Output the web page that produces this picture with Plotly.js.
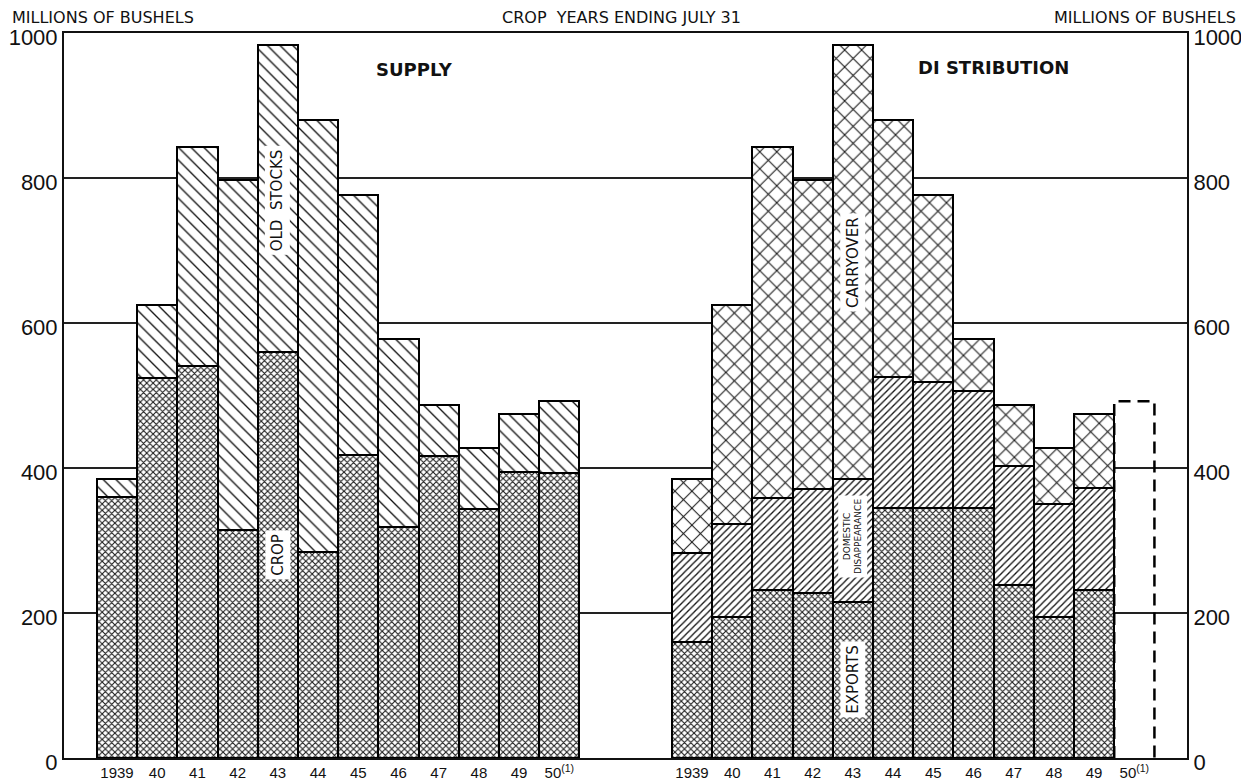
<!DOCTYPE html>
<html>
<head>
<meta charset="utf-8">
<script src="https://cdn.plot.ly/plotly-3.0.1.min.js"></script>
<style>html,body{margin:0;padding:0;background:#fff;}#chart{width:1241px;height:781px;}</style>
</head>
<body>
<div id="chart"></div>
<script>
// Crop years ending July 31
var years = ["1939","40","41","42","43","44","45","46","47","48","49","50<sup>(1)</sup>"];

// SUPPLY (millions of bushels)
var supplyCrop      = [360, 524, 541, 315, 560, 284, 418, 318, 417, 343, 395, 393];
var supplyOldStocks = [25, 101, 302, 482, 423, 596, 358, 260, 70, 85, 79, 99];

// DISTRIBUTION (millions of bushels), 1939-49
var distExports  = [160, 194, 232, 227, 215, 345, 345, 345, 239, 194, 232];
var distDomestic = [123, 129, 127, 144, 170, 180, 173, 161, 164, 157, 140];
var distCarryover= [102, 302, 484, 426, 598, 355, 258, 72, 84, 77, 102];
// 1950 distribution, projected total (dashed outline)
var dist1950Total = 492;

var yTicks = [0, 200, 400, 600, 800, 1000];

// layout positions (category index -> axis position)
var rightOffset = 14.3;
var leftPos = years.map(function(_, i){ return i; });
var rightPos = years.map(function(_, i){ return rightOffset + i; });

var fine = {shape: 'x', size: 4.5, solidity: 0.42, fgcolor: '#1a1a1a', bgcolor: '#ffffff'};
var lineStyle = {color: '#000', width: 2};

function barTrace(x, y, pattern, name){
  return {
    type: 'bar', x: x, y: y, name: name, width: 1,
    marker: {color: '#ffffff', pattern: pattern, line: lineStyle},
    hoverinfo: 'x+y+name', showlegend: false
  };
}

var traces = [
  barTrace(leftPos, supplyCrop, fine, 'Crop'),
  barTrace(leftPos, supplyOldStocks, {shape: '\\', size: 9, solidity: 0.15, fgcolor: '#111', bgcolor: '#fff'}, 'Old stocks'),
  barTrace(rightPos.slice(0, distExports.length), distExports, fine, 'Exports'),
  barTrace(rightPos.slice(0, distDomestic.length), distDomestic, {shape: '/', size: 5, solidity: 0.26, fgcolor: '#111', bgcolor: '#fff'}, 'Domestic disappearance'),
  barTrace(rightPos.slice(0, distCarryover.length), distCarryover, {shape: 'x', size: 12, solidity: 0.16, fgcolor: '#111', bgcolor: '#fff'}, 'Carryover')
];

// dashed outline for 1950 distribution
var p50 = rightPos[11];
traces.push({
  type: 'scatter', mode: 'lines',
  x: [p50 - 0.5, p50 - 0.5, p50 + 0.5, p50 + 0.5],
  y: [0, dist1950Total, dist1950Total, 0],
  line: {color: '#000', width: 2.5, dash: '12px,7px'},
  hoverinfo: 'skip', showlegend: false
});

var tickvals = leftPos.concat(rightPos);
var ticktext = years.concat(years);

var F = 'DejaVu Sans, Liberation Sans, Arial, sans-serif';
var NARROW = 'Liberation Sans Narrow, Liberation Sans, Arial, sans-serif';

function lab(x, y, text, size, extra){
  var a = {x: x, y: y, xref: 'x', yref: 'y', text: text, showarrow: false,
    textangle: -90, font: {family: F, size: size, color: '#111'},
    bgcolor: '#ffffff', borderpad: 3};
  if (extra) for (var k in extra) a[k] = extra[k];
  return a;
}

var layout = {
  width: 1241, height: 781,
  margin: {l: 64, r: 54, t: 33, b: 23},
  paper_bgcolor: '#fff', plot_bgcolor: '#fff',
  barmode: 'stack', bargap: 0,
  showlegend: false,
  xaxis: {
    range: [-1.318, 26.61], showgrid: false, zeroline: false,
    showline: true, mirror: true, linecolor: '#111', linewidth: 2,
    tickmode: 'array', tickvals: tickvals, ticktext: ticktext, ticks: '',
    tickfont: {family: NARROW, size: 15, color: '#111'}
  },
  yaxis: {
    range: [0, 1000], tickmode: 'array', tickvals: yTicks,
    showgrid: true, gridcolor: '#222', gridwidth: 1.4, zeroline: false,
    showline: true, linecolor: '#111', linewidth: 2, ticks: '',
    ticklabelshift: 4,
    tickfont: {family: NARROW, size: 22, color: '#111'}
  },
  yaxis2: {
    overlaying: 'y', side: 'right', range: [0, 1000], tickmode: 'array', tickvals: yTicks,
    showgrid: false, zeroline: false, showline: true, linecolor: '#111', linewidth: 2, ticks: '',
    ticklabelshift: 4,
    tickfont: {family: NARROW, size: 22, color: '#111'}
  },
  annotations: [
    {xref: 'paper', yref: 'paper', x: -0.0481, y: 1.022, xanchor: 'left', yanchor: 'middle',
     text: 'MILLIONS OF BUSHELS', showarrow: false, font: {family: F, size: 16, color: '#111'}},
    {xref: 'paper', yref: 'paper', x: 0.496, y: 1.022, xanchor: 'center', yanchor: 'middle',
     text: 'CROP  YEARS ENDING JULY 31', showarrow: false, font: {family: F, size: 16, color: '#111'}},
    {xref: 'paper', yref: 'paper', x: 1.0454, y: 1.022, xanchor: 'right', yanchor: 'middle',
     text: 'MILLIONS OF BUSHELS', showarrow: false, font: {family: F, size: 16, color: '#111'}},
    {xref: 'x', yref: 'y', x: 7.41, y: 950, text: '<b>SUPPLY</b>', showarrow: false,
     font: {family: F, size: 18, color: '#111'}},
    {xref: 'x', yref: 'y', x: 21.8, y: 953, text: '<b>DI STRIBUTION</b>', showarrow: false,
     font: {family: F, size: 18, color: '#111'}},
    lab(leftPos[4], 769, 'OLD  STOCKS', 15),
    lab(leftPos[4], 280, 'CROP', 15),
    lab(rightPos[4], 684, 'CARRYOVER', 15),
    lab(rightPos[4], 306, 'DOMESTIC<br>DISAPPEARANCE', 9),
    lab(rightPos[4], 109, 'EXPORTS', 15)
  ]
};

traces.push({type: 'scatter', x: [leftPos[0]], y: [0], yaxis: 'y2', mode: 'markers',
  marker: {opacity: 0}, hoverinfo: 'skip', showlegend: false});

Plotly.newPlot('chart', traces, layout, {displayModeBar: false, staticPlot: true});
</script>
</body>
</html>
